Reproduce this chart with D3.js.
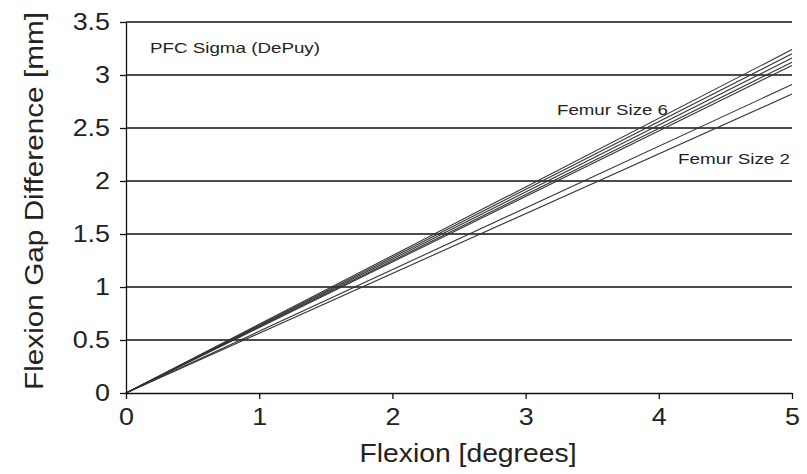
<!DOCTYPE html>
<meta charset="utf-8">
<script src="https://d3js.org/d3.v7.min.js"></script>
<body>
<div id="chart"></div>
<style>
 body { margin: 0; background: #fff; }
 text { font-family: 'Liberation Sans', Arial, sans-serif; fill: #222; }
</style>
<script>
// data: gap difference [mm] at 5 degrees flexion, lines start at origin
var flexion = [0, 5];
var endValues = [3.24, 3.20, 3.16, 3.12, 3.09, 2.91, 2.82];
var yTicks = [0, 0.5, 1, 1.5, 2, 2.5, 3, 3.5];
var xTicks = [0, 1, 2, 3, 4, 5];

var W = 807, H = 474;
var margin = {top: 22, right: 15, bottom: 81, left: 126};

var svg = d3.select("#chart").append("svg")
  .attr("width", W).attr("height", H);

var x = d3.scaleLinear().domain([0, 5]).range([margin.left, W - margin.right]);
var y = d3.scaleLinear().domain([0, 3.5]).range([H - margin.bottom, margin.top]);

// the source font is a little wider than Liberation Sans, so stretch text
function stretch(sel, k) {
  sel.each(function() {
    var w = this.getComputedTextLength();
    d3.select(this).attr("textLength", w * k).attr("lengthAdjust", "spacingAndGlyphs");
  });
}

// horizontal grid
svg.append("g").selectAll("line")
  .data(yTicks.slice(1))
  .enter().append("line")
    .attr("x1", x(0)).attr("x2", x(5))
    .attr("y1", function(d) { return y(d); })
    .attr("y2", function(d) { return y(d); })
    .attr("stroke", "#111").attr("stroke-width", 1.3);

// series lines
var line = d3.line()
  .x(function(d) { return x(d[0]); })
  .y(function(d) { return y(d[1]); });

svg.append("g").selectAll("path")
  .data(endValues)
  .enter().append("path")
    .attr("d", function(v) { return line([[flexion[0], 0], [flexion[1], v]]); })
    .attr("fill", "none")
    .attr("stroke", "#333")
    .attr("stroke-width", 1.1);

// axes
var fmt = function(d) { return d; };
var yAxis = svg.append("g")
  .attr("transform", "translate(" + x(0) + ",0)")
  .call(d3.axisLeft(y).tickValues(yTicks).tickSize(6).tickPadding(10)
    .tickFormat(fmt).tickSizeOuter(0));
yAxis.selectAll("text").style("font-size", "24px");
stretch(yAxis.selectAll("text"), 1.12);

var xAxis = svg.append("g")
  .attr("transform", "translate(0," + y(0) + ")")
  .call(d3.axisBottom(x).tickValues(xTicks).tickSize(6).tickPadding(9)
    .tickFormat(fmt).tickSizeOuter(0));
xAxis.selectAll("text").style("font-size", "24px");
stretch(xAxis.selectAll("text"), 1.12);

svg.selectAll(".domain, .tick line").attr("stroke", "#111").attr("stroke-width", 1.3);

// labels
svg.append("text").attr("x", 150).attr("y", 53).text("PFC Sigma (DePuy)")
  .style("font-size", "15px").attr("textLength", 170).attr("lengthAdjust", "spacingAndGlyphs");
svg.append("text").attr("x", 557).attr("y", 115).text("Femur Size 6")
  .style("font-size", "15px").attr("textLength", 111).attr("lengthAdjust", "spacingAndGlyphs");
svg.append("text").attr("x", 678).attr("y", 164).text("Femur Size 2")
  .style("font-size", "15px").attr("textLength", 112).attr("lengthAdjust", "spacingAndGlyphs");

svg.append("text")
  .attr("transform", "translate(43,201) rotate(-90)")
  .attr("text-anchor", "middle")
  .attr("textLength", 378).attr("lengthAdjust", "spacingAndGlyphs")
  .text("Flexion Gap Difference [mm]").style("font-size", "25px");

svg.append("text")
  .attr("x", 468).attr("y", 462)
  .attr("text-anchor", "middle")
  .attr("textLength", 217).attr("lengthAdjust", "spacingAndGlyphs")
  .text("Flexion [degrees]").style("font-size", "25px");
</script>
</body>
